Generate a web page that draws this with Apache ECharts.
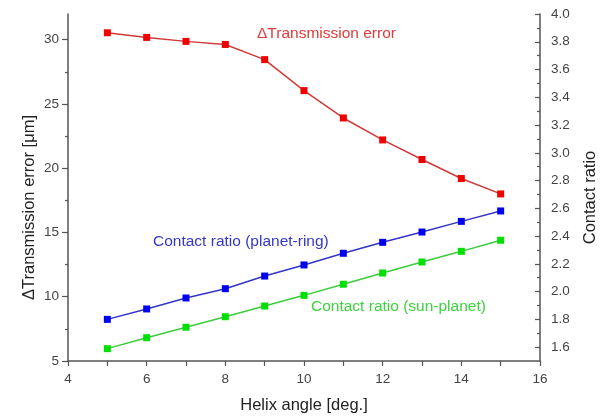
<!DOCTYPE html>
<html>
<head>
<meta charset="utf-8">
<script src="https://cdn.jsdelivr.net/npm/echarts@6/dist/echarts.min.js"></script>
<style>html,body{margin:0;padding:0;background:#fff}#c{width:611px;height:419px}</style>
</head>
<body>
<div id="c"></div>
<script>
const helixAngle = [5, 6, 7, 8, 9, 10, 11, 12, 13, 14, 15];
const transmissionError = [30.54, 30.18, 29.87, 29.63, 28.45, 26.04, 23.91, 22.20, 20.68, 19.20, 18.00];
const contactPlanetRing = [1.800, 1.875, 1.954, 2.021, 2.112, 2.192, 2.276, 2.355, 2.429, 2.506, 2.581];
const contactSunPlanet = [1.589, 1.668, 1.743, 1.819, 1.896, 1.973, 2.053, 2.134, 2.213, 2.290, 2.370];
const leftMajorTicks = [5, 10, 15, 20, 25, 30];
const leftMinorTicks = [7.5, 12.5, 17.5, 22.5, 27.5];
const rightMajorTicks = [1.6, 1.8, 2.0, 2.2, 2.4, 2.6, 2.8, 3.0, 3.2, 3.4, 3.6, 3.8, 4.0];
const rightMinorTicks = [1.7, 1.9, 2.1, 2.3, 2.5, 2.7, 2.9, 3.1, 3.3, 3.5, 3.7, 3.9];

const FONT = 'Arial, "Liberation Sans", sans-serif';
const AXIS_COLOR = '#555';
const LABEL_COLOR = '#444';
const TITLE_COLOR = '#222';
const chart = echarts.init(document.getElementById('c'), null, {renderer: 'canvas'});

function pair(xs, ys) { return xs.map((x, i) => [x, ys[i]]); }

chart.setOption({
  animation: false,
  backgroundColor: '#fff',
  grid: {left: 68, right: 71, top: 14, bottom: 58},
  xAxis: {
    type: 'value', min: 4, max: 16, interval: 1,
    name: 'Helix angle [deg.]', nameLocation: 'middle', nameGap: 36,
    nameTextStyle: {fontFamily: FONT, fontSize: 16.5, color: TITLE_COLOR},
    axisLine: {lineStyle: {color: AXIS_COLOR, width: 1.5}},
    axisTick: {length: 5, lineStyle: {color: AXIS_COLOR, width: 1.2}},
    axisLabel: {fontFamily: FONT, fontSize: 13.5, color: LABEL_COLOR, margin: 11,
      formatter: v => (v % 2 === 0 ? String(v) : '')},
    splitLine: {show: false}
  },
  yAxis: [
    {
      type: 'value', position: 'left', min: 5, max: 32,
      name: 'ΔTransmission error [μm]', nameLocation: 'middle', nameGap: 30, nameMoveOverlap: false,
      nameTextStyle: {fontFamily: FONT, fontSize: 16.5, color: TITLE_COLOR, padding: [0, 40, 0, 0]},
      axisLine: {show: true, onZero: false, lineStyle: {color: AXIS_COLOR, width: 1.5}},
      axisTick: {show: true, length: 6, customValues: leftMajorTicks, lineStyle: {color: AXIS_COLOR, width: 1.2}},
      axisLabel: {customValues: leftMajorTicks, fontFamily: FONT, fontSize: 13.5, color: LABEL_COLOR, margin: 9},
      splitLine: {show: false}
    },
    {
      type: 'value', position: 'right', min: 1.5, max: 4.0,
      name: 'Contact ratio', nameLocation: 'middle', nameGap: 42,
      nameTextStyle: {fontFamily: FONT, fontSize: 16.5, color: TITLE_COLOR, padding: [0, 20, 0, 0]},
      axisLine: {show: true, onZero: false, lineStyle: {color: AXIS_COLOR, width: 1.5}},
      axisTick: {show: true, inside: true, length: 5, customValues: rightMajorTicks, lineStyle: {color: AXIS_COLOR, width: 1.2}},
      axisLabel: {customValues: rightMajorTicks, fontFamily: FONT, fontSize: 13.5, color: LABEL_COLOR, margin: 11,
        formatter: v => v.toFixed(1)},
      splitLine: {show: false}
    },
    {
      type: 'value', position: 'left', min: 5, max: 32,
      axisLine: {show: false},
      axisTick: {show: true, length: 3, customValues: leftMinorTicks, lineStyle: {color: AXIS_COLOR, width: 1.2}},
      axisLabel: {show: false},
      splitLine: {show: false}
    },
    {
      type: 'value', position: 'right', min: 1.5, max: 4.0,
      axisLine: {show: false},
      axisTick: {show: true, inside: true, length: 3, customValues: rightMinorTicks, lineStyle: {color: AXIS_COLOR, width: 1.2}},
      axisLabel: {show: false},
      splitLine: {show: false}
    }
  ],
  series: [
    {
      type: 'line', yAxisIndex: 0, data: pair(helixAngle, transmissionError),
      symbol: 'rect', symbolSize: 7,
      lineStyle: {color: '#d03a3a', width: 1.5},
      itemStyle: {color: '#f00000'}
    },
    {
      type: 'line', yAxisIndex: 1, data: pair(helixAngle, contactPlanetRing),
      symbol: 'rect', symbolSize: 7,
      lineStyle: {color: '#3434c8', width: 1.5},
      itemStyle: {color: '#0000f0'}
    },
    {
      type: 'line', yAxisIndex: 1, data: pair(helixAngle, contactSunPlanet),
      symbol: 'rect', symbolSize: 7,
      lineStyle: {color: '#3ccc3c', width: 1.5},
      itemStyle: {color: '#00e000'}
    }
  ],
  graphic: [
    {type: 'text', left: 257, top: 26, style: {text: 'ΔTransmission error', font: '15.5px ' + FONT, fill: '#e03a3a'}},
    {type: 'text', left: 153, top: 234, style: {text: 'Contact ratio (planet-ring)', font: '15.5px ' + FONT, fill: '#3636c8'}},
    {type: 'text', left: 311, top: 299, style: {text: 'Contact ratio (sun-planet)', font: '15.5px ' + FONT, fill: '#3cd23c'}}
  ]
});
</script>
</body>
</html>
